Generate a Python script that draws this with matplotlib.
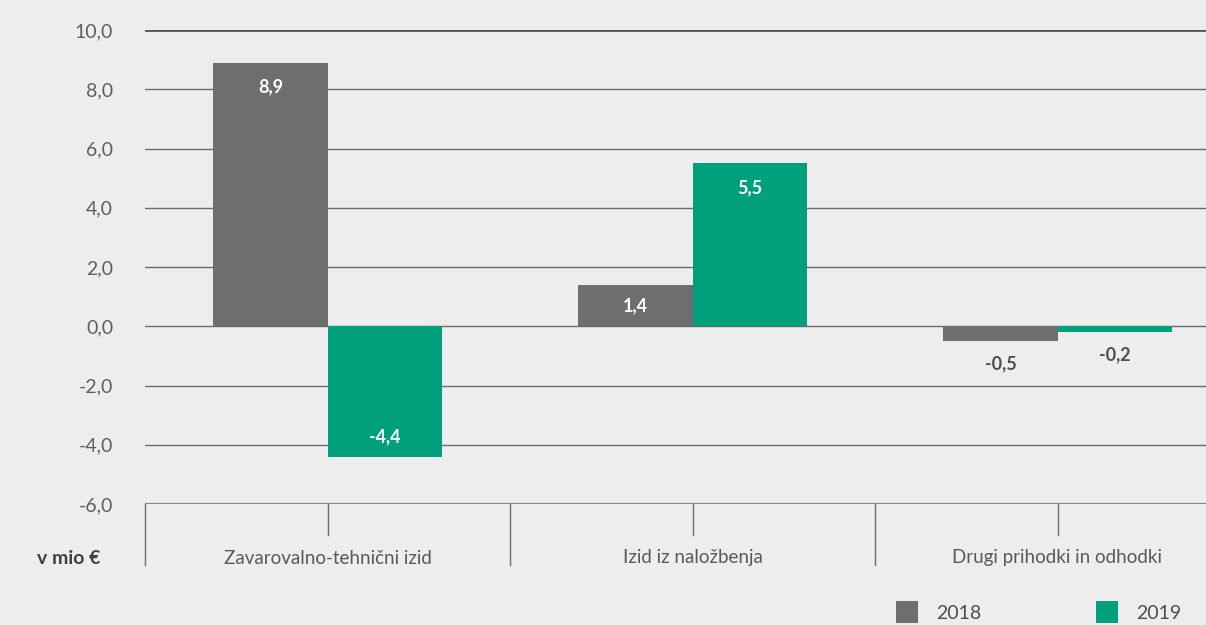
import matplotlib.pyplot as plt
from matplotlib.patches import Patch

categories = ["Zavarovalno-tehnični izid", "Izid iz naložbenja", "Drugi prihodki in odhodki"]
years = ["2018", "2019"]
values_2018 = [8.9, 1.4, -0.5]
values_2019 = [-4.4, 5.5, -0.2]
yticks = [-6, -4, -2, 0, 2, 4, 6, 8, 10]

BG = "#ededed"
GREY = "#6d6e70"
GREEN = "#00a07d"
TEXT = "#58595b"

plt.rcParams["font.family"] = ["Lato", "DejaVu Sans"]

fig = plt.figure(figsize=(12.06, 6.25), dpi=100, facecolor=BG)
W, H = 1206, 625
ax = fig.add_axes([145 / W, 1 - 504 / H, 1095 / W, 474 / H], facecolor=BG)

x = list(range(len(categories)))
bw = 0.3125
x18 = [i - bw / 2 for i in x]
x19 = [i + bw / 2 for i in x]

# horizontal grid
for t in yticks:
    if t == 10:
        ax.axhline(t, color="#555555", lw=2.0, zorder=1)
    elif t == -6:
        ax.axhline(t, color="#8a8a8a", lw=1.6, zorder=1)
    else:
        ax.axhline(t, color="#6a6a6a", lw=1.0, zorder=1)

bars18 = ax.bar(x18, values_2018, width=bw, color=GREY, zorder=2)
bars19 = ax.bar(x19, values_2019, width=bw, color=GREEN, zorder=2)


def fmt(v):
    return f"{v:.1f}".replace(".", ",")


def label_bars(bars, vals):
    for b, v in zip(bars, vals):
        cx = b.get_x() + b.get_width() / 2
        if abs(v) >= 3:
            off = -24 if v > 0 else 20
            ax.annotate(fmt(v), (cx, v), xytext=(0, off), textcoords="offset pixels",
                        ha="center", va="center", color="white", fontsize=13,
                        fontweight="bold", zorder=3)
        elif abs(v) >= 1:
            ax.text(cx, v / 2, fmt(v), ha="center", va="center", color="white",
                    fontsize=13, fontweight="bold", zorder=3)
        else:
            ax.annotate(fmt(v), (cx, v), xytext=(0, -23), textcoords="offset pixels",
                        ha="center", va="center", color="#4d4d4f", fontsize=13,
                        fontweight="bold", zorder=3)


label_bars(bars18, values_2018)
label_bars(bars19, values_2019)

ax.set_xlim(-0.5, 2.5)
ax.set_ylim(-6, 10)
ax.set_yticks(yticks)
ax.set_yticklabels([fmt(t) for t in yticks], fontsize=14, color="#5e5e60", fontweight="normal")
ax.tick_params(axis="y", length=0, pad=23)
ax.set_xticks([])
for s in ax.spines.values():
    s.set_visible(False)

# category separators and center ticks below the axis
xt = ax.get_xaxis_transform()
for b in [-0.5, 0.5, 1.5, 2.5]:
    ax.plot([b, b], [0, -61 / 474], transform=xt, color="#6a6a6a", lw=1.0, clip_on=False)
for c in x:
    ax.plot([c, c], [0, -31 / 474], transform=xt, color="#6a6a6a", lw=1.0, clip_on=False)
    ax.text(c, -(558 - 504) / 474, categories[c], transform=xt, ha="center", va="center",
            fontsize=13.5, color=TEXT, fontweight="normal")

fig.text(100 / W, 1 - 559 / H, "v mio €", ha="right", va="center", fontsize=14,
         fontweight="bold", color="#3f3f41")

handles = [Patch(facecolor=GREY, edgecolor="none"), Patch(facecolor=GREEN, edgecolor="none")]
fig.legend(handles, years, loc="upper left", bbox_to_anchor=(896 / W, 1 - 601 / H),
           ncol=2, frameon=False, fontsize=14, handlelength=1.15, handleheight=1.4,
           handletextpad=0.9, columnspacing=5.9, borderpad=0, borderaxespad=0,
           labelcolor="#4d4d4f")

fig.savefig("out.png", dpi=100, facecolor=BG)
